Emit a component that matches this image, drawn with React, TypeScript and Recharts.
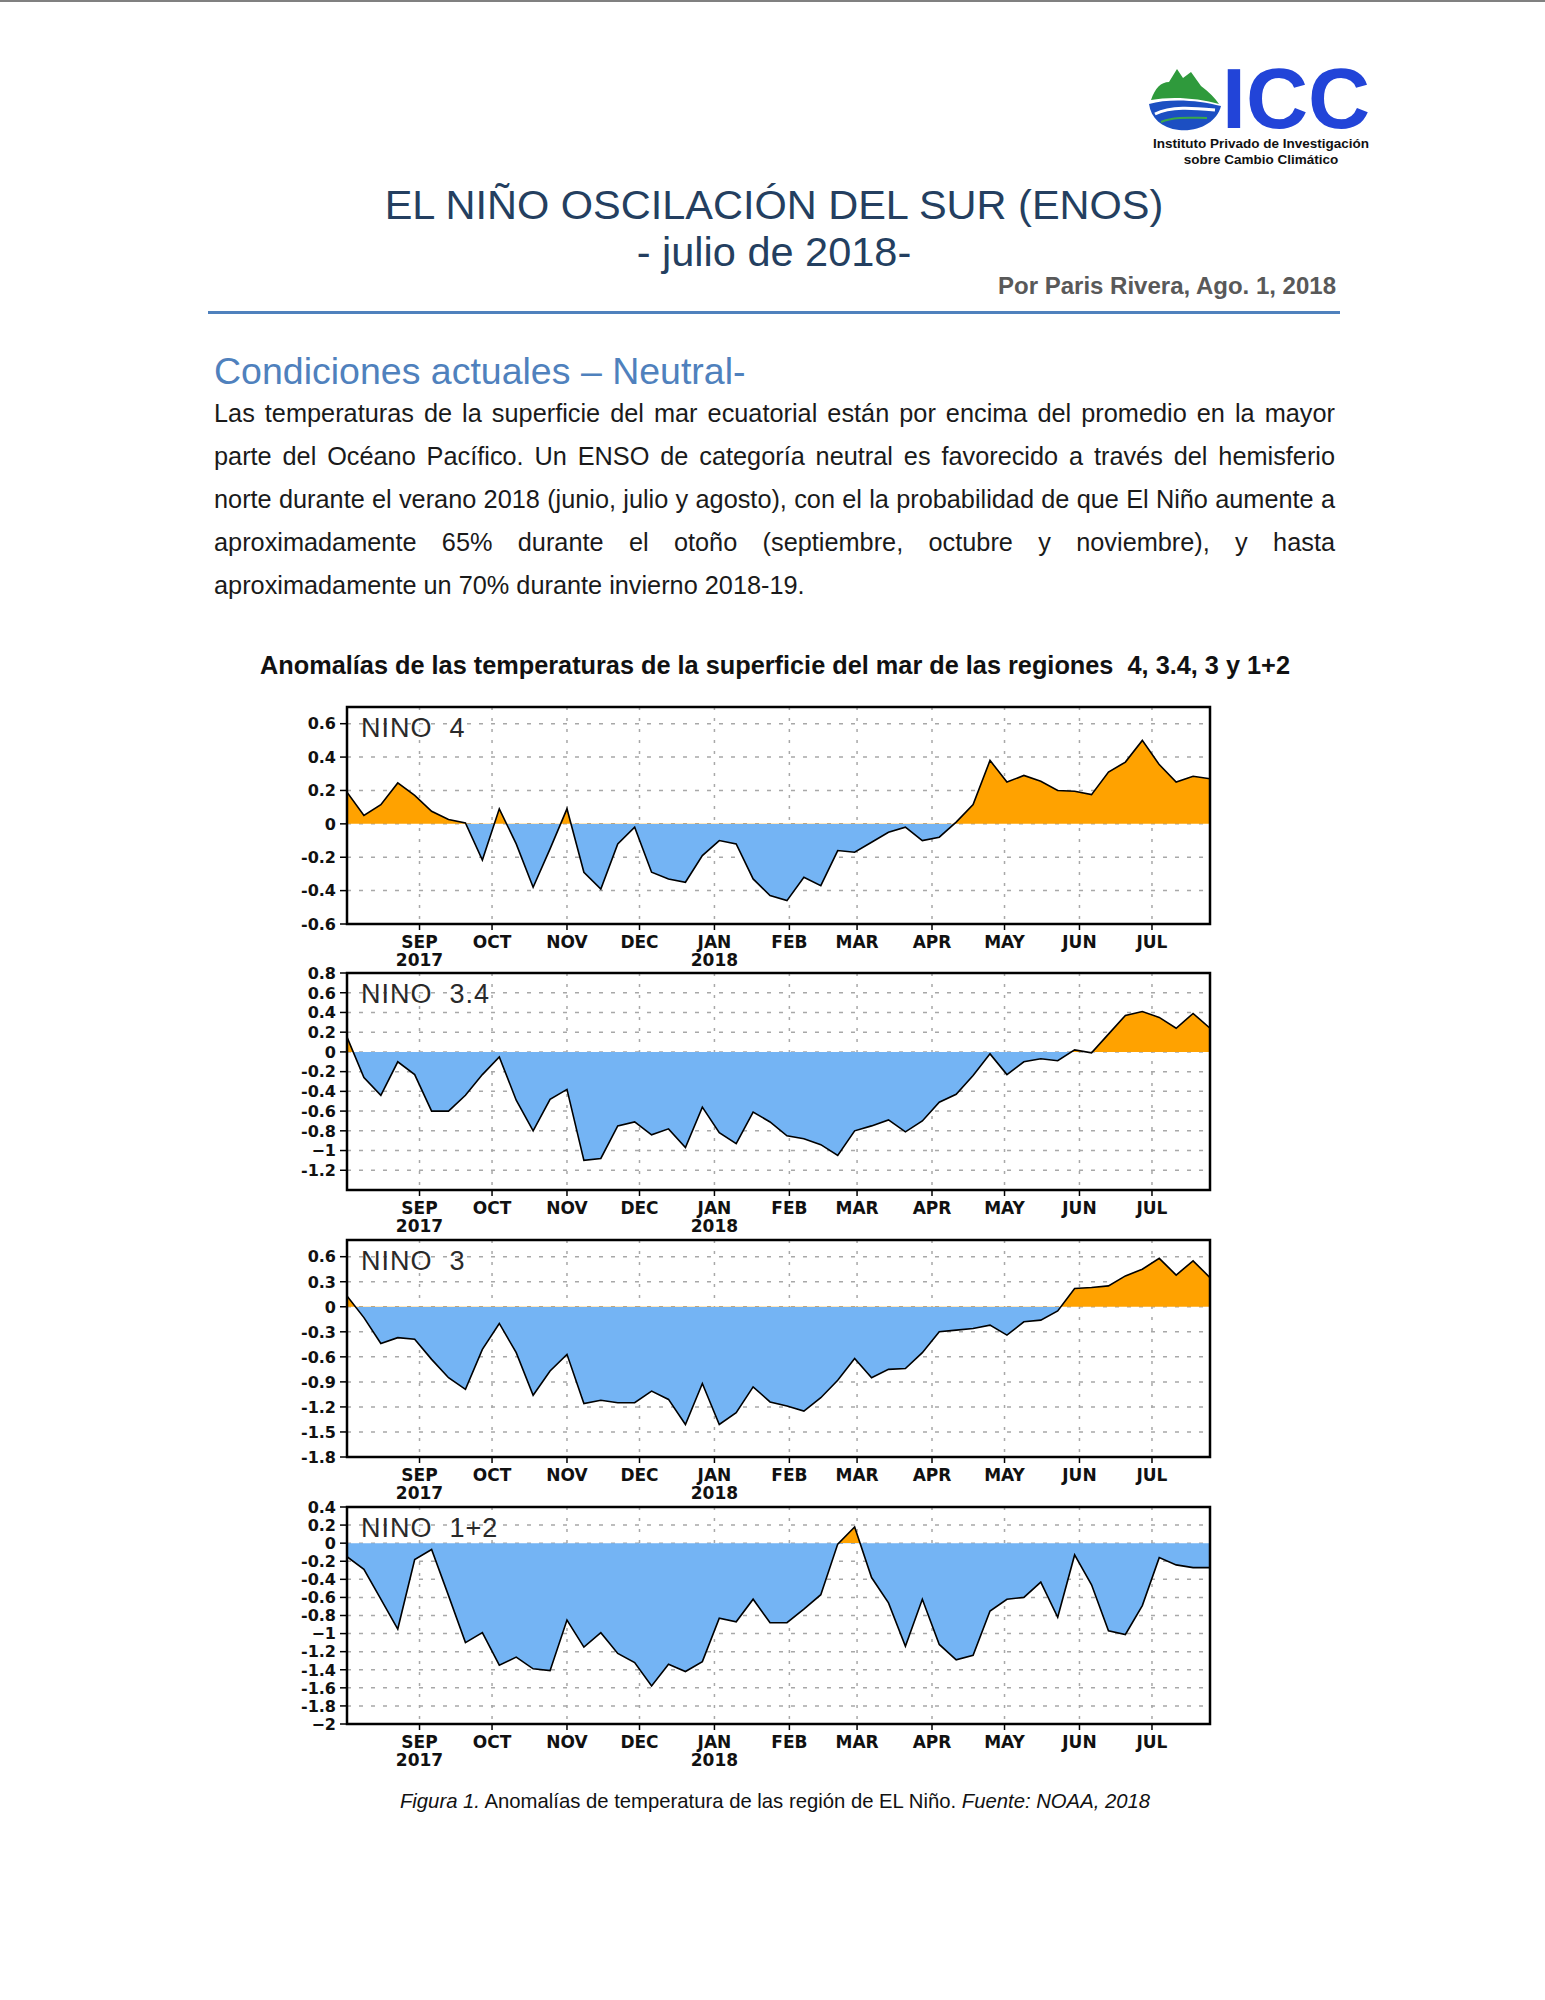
import React from "react";
import { AreaChart, Area, XAxis, YAxis, CartesianGrid, ReferenceArea } from "recharts";

// ---------- DATA ----------
const weekDates = [
  "2017-08-02", "2017-08-09", "2017-08-16", "2017-08-23", "2017-08-30",
  "2017-09-06", "2017-09-13", "2017-09-20", "2017-09-27",
  "2017-10-04", "2017-10-11", "2017-10-18", "2017-10-25",
  "2017-11-01", "2017-11-08", "2017-11-15", "2017-11-22", "2017-11-29",
  "2017-12-06", "2017-12-13", "2017-12-20", "2017-12-27",
  "2018-01-03", "2018-01-10", "2018-01-17", "2018-01-24", "2018-01-31",
  "2018-02-07", "2018-02-14", "2018-02-21", "2018-02-28",
  "2018-03-07", "2018-03-14", "2018-03-21", "2018-03-28",
  "2018-04-04", "2018-04-11", "2018-04-18", "2018-04-25",
  "2018-05-02", "2018-05-09", "2018-05-16", "2018-05-23", "2018-05-30",
  "2018-06-06", "2018-06-13", "2018-06-20", "2018-06-27",
  "2018-07-04", "2018-07-11", "2018-07-18", "2018-07-25",
];

const monthTickDates = [
  "2017-09-01", "2017-10-01", "2017-11-01", "2017-12-01", "2018-01-01",
  "2018-02-01", "2018-03-01", "2018-04-01", "2018-05-01", "2018-06-01", "2018-07-01",
];
const monthLabels = ["SEP", "OCT", "NOV", "DEC", "JAN", "FEB", "MAR", "APR", "MAY", "JUN", "JUL"];
const yearLabels = ["2017", "", "", "", "2018", "", "", "", "", "", ""];

const nino4 = [
  0.19, 0.05, 0.115, 0.245, 0.17, 0.075, 0.026, 0.006, -0.217, 0.09,
  -0.12, -0.38, -0.15, 0.09, -0.29, -0.39, -0.12, -0.02, -0.29, -0.33,
  -0.35, -0.19, -0.1, -0.12, -0.33, -0.43, -0.46, -0.32, -0.37, -0.16,
  -0.17, -0.11, -0.05, -0.02, -0.1, -0.08, 0.01, 0.115, 0.38, 0.25,
  0.29, 0.255, 0.2, 0.195, 0.175, 0.31, 0.37, 0.5, 0.355, 0.25,
  0.285, 0.27,
];
const nino34 = [
  0.15, -0.26, -0.44, -0.1, -0.23, -0.6, -0.6, -0.44, -0.23, -0.05,
  -0.49, -0.8, -0.48, -0.38, -1.1, -1.08, -0.75, -0.71, -0.84, -0.78,
  -0.97, -0.56, -0.82, -0.93, -0.61, -0.71, -0.85, -0.88, -0.94, -1.05,
  -0.8, -0.75, -0.69, -0.81, -0.7, -0.51, -0.43, -0.24, -0.02, -0.23,
  -0.1, -0.07, -0.09, 0.02, -0.01, 0.18, 0.37, 0.41, 0.35, 0.24,
  0.39, 0.24,
];
const nino3 = [
  0.13, -0.13, -0.44, -0.37, -0.39, -0.63, -0.85, -0.99, -0.51, -0.2,
  -0.55, -1.06, -0.77, -0.57, -1.16, -1.12, -1.15, -1.15, -1.01, -1.11,
  -1.41, -0.92, -1.41, -1.27, -0.96, -1.14, -1.19, -1.25, -1.09, -0.88,
  -0.62, -0.85, -0.75, -0.74, -0.55, -0.3, -0.28, -0.26, -0.22, -0.34,
  -0.18, -0.16, -0.05, 0.22, 0.23, 0.25, 0.37, 0.45, 0.58, 0.38,
  0.55, 0.35,
];
const nino12 = [
  -0.15, -0.29, -0.62, -0.95, -0.18, -0.07, -0.58, -1.1, -0.99, -1.35,
  -1.26, -1.39, -1.41, -0.85, -1.15, -0.99, -1.22, -1.32, -1.58, -1.34,
  -1.42, -1.31, -0.83, -0.87, -0.62, -0.88, -0.88, -0.73, -0.57, -0.01,
  0.18, -0.38, -0.66, -1.14, -0.62, -1.12, -1.29, -1.24, -0.75, -0.62,
  -0.6, -0.43, -0.82, -0.13, -0.46, -0.97, -1.01, -0.69, -0.16, -0.24,
  -0.27, -0.27,
];

const nino4Ticks = [0.6, 0.4, 0.2, 0, -0.2, -0.4, -0.6];
const nino34Ticks = [0.8, 0.6, 0.4, 0.2, 0, -0.2, -0.4, -0.6, -0.8, -1, -1.2];
const nino3Ticks = [0.6, 0.3, 0, -0.3, -0.6, -0.9, -1.2, -1.5, -1.8];
const nino12Ticks = [0.4, 0.2, 0, -0.2, -0.4, -0.6, -0.8, -1, -1.2, -1.4, -1.6, -1.8, -2];

const nino4Domain = [-0.6, 0.7];
const nino34Domain = [-1.4, 0.8];
const nino3Domain = [-1.8, 0.8];
const nino12Domain = [-2, 0.4];

const paraLines = [
  "Las temperaturas de la superficie del mar ecuatorial  están por encima del promedio en la mayor",
  "parte del Océano Pacífico. Un ENSO de categoría neutral es favorecido a través del hemisferio",
  "norte durante el verano 2018 (junio, julio y agosto), con el la probabilidad de que El Niño aumente a",
  "aproximadamente 65% durante el otoño (septiembre, octubre y noviembre), y hasta",
  "aproximadamente un 70% durante invierno 2018-19.",
];

// ---------- HELPERS ----------
const ORANGE = "#ffa200";
const BLUE = "#74b4f4";
const ARIAL = '"Liberation Sans", Arial, sans-serif';
const GRADS = '"DejaVu Sans", sans-serif';

const t0 = Date.parse(weekDates[0] + "T00:00:00Z");
const dayOf = (s: string) => Math.round((Date.parse(s + "T00:00:00Z") - t0) / 86400000);
const monthDays = monthTickDates.map(dayOf);
const lastDay = dayOf(weekDates[weekDates.length - 1]);

function fmtTick(v: number) {
  if (v === 0) return "0";
  if (Number.isInteger(v) && v < 0) return "\u2212" + Math.abs(v);
  return String(v);
}

const XTick = (props: any) => {
  const { x, y, payload } = props;
  const i = monthDays.indexOf(payload.value);
  return (
    <g>
      <text x={x} y={y + 16.3} textAnchor="middle" fontFamily={GRADS} fontWeight="bold" fontSize={17} fill="#111">
        {monthLabels[i]}
      </text>
      {yearLabels[i] ? (
        <text x={x} y={y + 33.6} textAnchor="middle" fontFamily={GRADS} fontWeight="bold" fontSize={17} fill="#111">
          {yearLabels[i]}
        </text>
      ) : null}
    </g>
  );
};

const YTick = (props: any) => {
  const { x, y, payload } = props;
  return (
    <text x={x} y={y} dy={5.8} textAnchor="end" fontFamily={GRADS} fontWeight="bold" fontSize={16} fill="#111">
      {fmtTick(payload.value)}
    </text>
  );
};

type PanelProps = { id: string; name: string; values: number[]; domain: number[]; ticks: number[]; top: number };

function Panel({ id, name, values, domain, ticks, top }: PanelProps) {
  const rows = weekDates.map((d, i) => ({ x: dayOf(d), v: values[i] }));
  const hi = Math.max(0, ...values);
  const lo = Math.min(0, ...values);
  const off = hi - lo === 0 ? 0 : hi / (hi - lo);
  return (
    <div style={{ position: "absolute", left: 280, top: top - 10, width: 945, height: 277 }}>
      <AreaChart width={945} height={277} data={rows} margin={{ top: 10, right: 15, bottom: 0, left: 0 }}>
        <defs>
          <linearGradient id={"split" + id} x1="0" y1="0" x2="0" y2="1">
            <stop offset={off} stopColor={ORANGE} />
            <stop offset={off} stopColor={BLUE} />
          </linearGradient>
        </defs>
        <CartesianGrid horizontal={true} vertical={false} stroke="#a8a8a8" strokeWidth={1.5} strokeDasharray="4 8" />
        <CartesianGrid horizontal={false} vertical={true} stroke="#a8a8a8" strokeWidth={1.5} strokeDasharray="3 8" />
        <XAxis
          type="number"
          dataKey="x"
          domain={[0, lastDay]}
          ticks={monthDays}
          interval={0}
          allowDataOverflow
          axisLine={false}
          tickLine={{ stroke: "#000", strokeWidth: 1.5 }}
          tickSize={6}
          tickMargin={2}
          height={50}
          tick={(p: any) => <XTick {...p} />}
        />
        <YAxis
          type="number"
          domain={domain}
          ticks={ticks}
          interval={0}
          allowDataOverflow
          axisLine={false}
          tickLine={{ stroke: "#000", strokeWidth: 1.5 }}
          tickSize={7}
          tickMargin={4}
          width={67}
          tick={(p: any) => <YTick {...p} />}
        />
        <Area
          type="linear"
          dataKey="v"
          baseValue={0}
          stroke="#000"
          strokeWidth={1.6}
          fill={"url(#split" + id + ")"}
          fillOpacity={1}
          dot={false}
          activeDot={false}
          isAnimationActive={false}
        />
        <ReferenceArea
          x1={0}
          x2={lastDay}
          y1={domain[0]}
          y2={domain[1]}
          fill="none"
          fillOpacity={0}
          stroke="#000"
          strokeWidth={2.5}
          ifOverflow="visible"
        />
      </AreaChart>
      <div
        style={{
          position: "absolute",
          left: 81,
          top: 18,
          fontFamily: ARIAL,
          fontSize: 27,
          lineHeight: 1,
          letterSpacing: 1,
          color: "#2a2a2a",
          whiteSpace: "pre",
        }}
      >
        {name}
      </div>
    </div>
  );
}

function Logo() {
  return (
    <>
      <svg style={{ position: "absolute", left: 1147, top: 64 }} width={82} height={70} viewBox="0 0 82 70">
        <path d="M4 36 C8 24 14 18 22 18 L30 5 L36 14 L44 8 L54 22 C62 28 68 34 72 40 C52 34 24 32 4 36 Z" fill="#2f9a3c" />
        <path d="M2 40 C22 34 52 36 74 42 C70 58 52 68 32 66 C14 64 4 54 2 40 Z" fill="#1c4fc2" />
        <path d="M8 50 C24 42 46 44 68 46" stroke="#ffffff" strokeWidth={3} fill="none" />
        <path d="M14 58 C28 52 46 54 60 54" stroke="#3aa84a" strokeWidth={2} fill="none" />
      </svg>
      <div
        style={{
          position: "absolute",
          left: 1222,
          top: 66,
          height: 64,
          fontFamily: ARIAL,
          fontWeight: "bold",
          fontSize: 86,
          lineHeight: "64px",
          color: "#2244d8",
          whiteSpace: "pre",
        }}
      >
        ICC
      </div>
      <div
        style={{
          position: "absolute",
          left: 1111,
          top: 136,
          width: 300,
          textAlign: "center",
          fontFamily: ARIAL,
          fontWeight: "bold",
          fontSize: 13.5,
          lineHeight: "16px",
          color: "#111",
          whiteSpace: "pre",
        }}
      >
        {"Instituto Privado de Investigación\nsobre Cambio Climático"}
      </div>
    </>
  );
}

export default function App() {
  const abs = (extra: React.CSSProperties): React.CSSProperties => ({
    position: "absolute",
    fontFamily: ARIAL,
    lineHeight: 1,
    whiteSpace: "pre",
    ...extra,
  });
  return (
    <div style={{ position: "absolute", left: 0, top: 0, width: 1545, height: 2000, background: "#fff", overflow: "hidden" }}>
      <div style={{ position: "absolute", left: 0, top: 0, width: 1545, height: 2, background: "#808080" }} />
      <Logo />
      <div style={abs({ left: 274, top: 184, width: 1000, textAlign: "center", fontSize: 41.5, color: "#243f60" })}>
        EL NIÑO OSCILACIÓN DEL SUR (ENOS)
      </div>
      <div style={abs({ left: 274, top: 231, width: 1000, textAlign: "center", fontSize: 41.5, color: "#243f60" })}>
        - julio de 2018-
      </div>
      <div style={abs({ left: 836, top: 274, width: 500, textAlign: "right", fontSize: 24, fontWeight: "bold", color: "#595959" })}>
        Por Paris Rivera, Ago. 1, 2018
      </div>
      <div style={{ position: "absolute", left: 208, top: 311, width: 1132, height: 3, background: "#4f81bd" }} />
      <div style={abs({ left: 214, top: 353, fontSize: 37.5, color: "#4f81bd" })}>Condiciones actuales – Neutral-</div>
      <div style={{ position: "absolute", left: 214, top: 392, width: 1121, fontFamily: ARIAL, fontSize: 25.3, color: "#1a1a1a" }}>
        {paraLines.map((l, i) => (
          <div
            key={i}
            style={{
              height: 43,
              lineHeight: "43px",
              textAlign: "justify",
              textAlignLast: i < paraLines.length - 1 ? "justify" : "left",
              whiteSpace: "nowrap",
            }}
          >
            {l}
          </div>
        ))}
      </div>
      <div style={abs({ left: 175, top: 653, width: 1200, textAlign: "center", fontSize: 25.3, fontWeight: "bold", color: "#111" })}>
        Anomalías de las temperaturas de la superficie del mar de las regiones  4, 3.4, 3 y 1+2
      </div>

      <Panel id="n4" name="NINO  4" values={nino4} domain={nino4Domain} ticks={nino4Ticks} top={707} />
      <Panel id="n34" name="NINO  3.4" values={nino34} domain={nino34Domain} ticks={nino34Ticks} top={973} />
      <Panel id="n3" name="NINO  3" values={nino3} domain={nino3Domain} ticks={nino3Ticks} top={1240} />
      <Panel id="n12" name="NINO  1+2" values={nino12} domain={nino12Domain} ticks={nino12Ticks} top={1507} />

      <div style={abs({ left: 275, top: 1791, width: 1000, textAlign: "center", fontSize: 20.3, color: "#111" })}>
        <i>Figura 1.</i> Anomalías de temperatura de las región de EL Niño. <i>Fuente: NOAA, 2018</i>
      </div>
    </div>
  );
}
